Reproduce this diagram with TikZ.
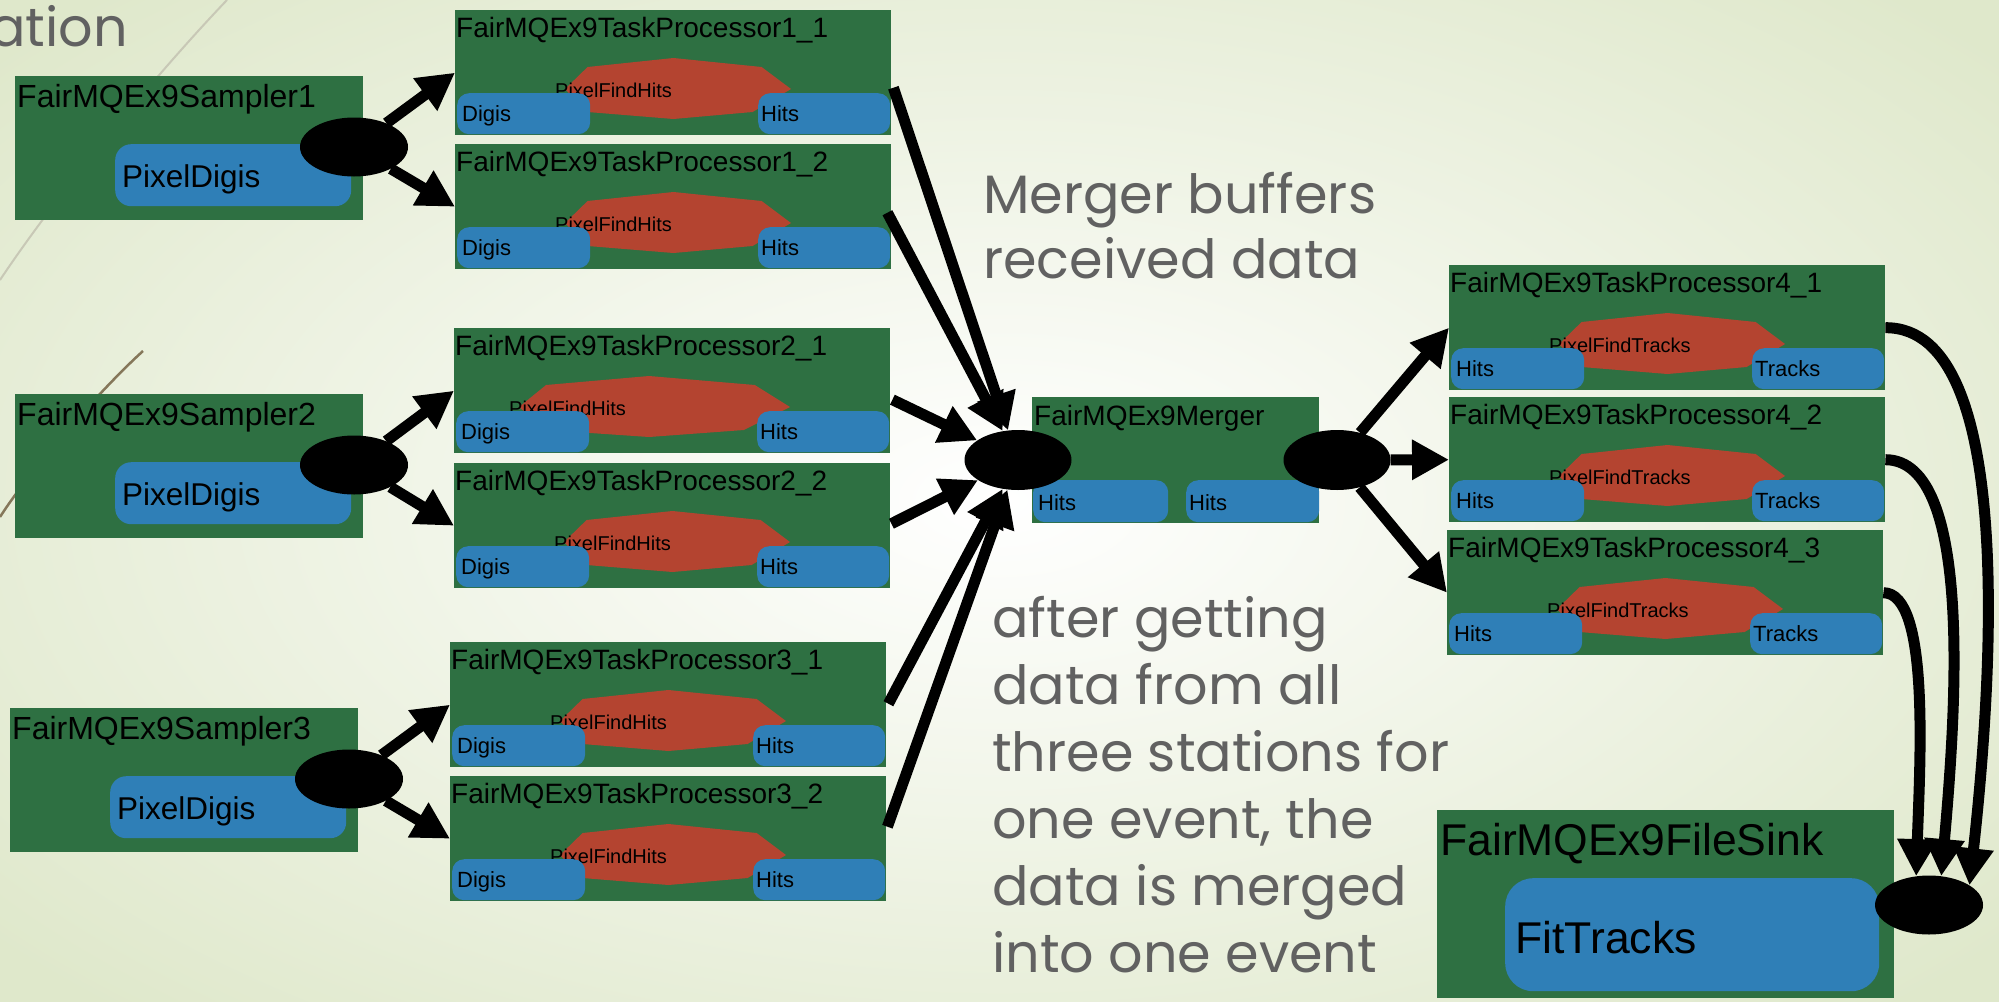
\documentclass[tikz,border=0pt]{standalone}
\usepackage{fontspec}
\setmainfont{Liberation Sans}
\newfontfamily\gothic{Poppins}
\usetikzlibrary{shapes.geometric,arrows.meta,calc}
\definecolor{boxgreen}{HTML}{2E7042}
\definecolor{boxblue}{HTML}{2F7FB7}
\definecolor{boxred}{HTML}{B44430}
\definecolor{anngray}{HTML}{616161}
\definecolor{bgedge}{HTML}{DFE8CB}
\definecolor{decoA}{HTML}{C8C8B6}
\definecolor{decoB}{HTML}{85775A}
\tikzset{
  greenbox/.style={fill=boxgreen, draw=none, inner sep=0pt, anchor=north west},
  bluebox/.style={fill=boxblue, draw=none, rounded corners=12pt, inner sep=0pt, anchor=north west},
  socket/.style={ellipse, fill=black, draw=none, inner sep=0pt, minimum width=108pt, minimum height=59pt},
  flow/.style={line width=11pt, -{Triangle[length=37pt,width=38pt]}},
  lbl/.style={inner sep=0pt, anchor=base west, font=\fontsize{22}{26}\selectfont},
  ftxt/.style={inner sep=0pt, anchor=base west, font=\fontsize{20}{24}\selectfont},
  tptitle/.style={inner sep=0pt, anchor=base west, font=\fontsize{28}{32}\selectfont},
  smtitle/.style={inner sep=0pt, anchor=base west, font=\fontsize{32}{36}\selectfont},
  bigtxt/.style={inner sep=0pt, anchor=base west, font=\fontsize{31.5}{36}\selectfont},
  hugetxt/.style={inner sep=0pt, anchor=base west, font=\fontsize{44.5}{50}\selectfont},
  ann/.style={inner sep=0pt, anchor=base west, text=anngray, font=\gothic\fontsize{54}{64}\selectfont},
}
\newcommand{\myocto}[3]{%
  \fill[boxred] ({#1+#3+0.48*(336-#3)},{#2+48}) -- ({#1+#3+0.87*(336-#3)},{#2+57}) -- ({#1+336},{#2+79})
   -- ({#1+#3+0.83*(336-#3)},{#2+102}) -- ({#1+#3+0.48*(336-#3)},{#2+109}) -- ({#1+#3+0.1*(336-#3)},{#2+102})
   -- ({#1+#3},{#2+79}) -- ({#1+#3+0.1*(336-#3)},{#2+57}) -- cycle;}
% name, x, y, title, inner, left label, right label, octagon left offset
\newcommand{\taskproc}[8]{%
  \node[greenbox, minimum width=436pt, minimum height=125pt] (#1) at (#2,#3) {};
  \myocto{#2}{#3}{#8}
  \node[ftxt] (#1-f) at ({#2+#8-10},{#3+87}) {#5};
  \node[tptitle] (#1-t) at ({#2+1},{#3+27}) {#4};
  \node[bluebox, minimum width=133pt, minimum height=41pt] (#1-l) at ({#2+2},{#3+83}) {};
  \node[bluebox, minimum width=132pt, minimum height=41pt] (#1-r) at ({#2+303},{#3+83}) {};
  \node[lbl] (#1-lt) at ({#2+7},{#3+111}) {#6};
  \node[lbl] (#1-rt) at ({#2+306},{#3+111}) {#7};
}
% name, x, y, title
\newcommand{\sampler}[4]{%
  \node[greenbox, minimum width=348pt, minimum height=144pt] (#1) at (#2,#3) {};
  \node[smtitle] (#1-t) at ({#2+2},{#3+31}) {#4};
  \node[bluebox, rounded corners=16pt, minimum width=236pt, minimum height=62pt] (#1-b) at ({#2+100},{#3+68}) {};
  \node[bigtxt] (#1-bt) at ({#2+107},{#3+111}) {PixelDigis};
  \node[socket] (#1-o) at ({#2+339},{#3+71}) {};
}
\begin{document}
\begin{tikzpicture}[x=1pt,y=-1pt]
\useasboundingbox (0,0) rectangle (1999,1001);
\shade[inner color=white, outer color=bgedge] (-300,-200) rectangle (2299,1201);
% decorative theme lines
\draw[decoA, line width=2pt] (227,0) .. controls (160,70) and (60,190) .. (0,280);
\draw[decoB, line width=2.5pt] (143,351) .. controls (100,390) and (30,470) .. (0,517);
\node[anchor=base east, inner sep=0pt, text=anngray, font=\gothic\fontsize{54}{64}\selectfont] (head) at (128,46) {ation};

% samplers
\sampler{s1}{15}{76}{FairMQEx9Sampler1}
\sampler{s2}{15}{394}{FairMQEx9Sampler2}
\sampler{s3}{10}{708}{FairMQEx9Sampler3}

% task processors
\taskproc{tp11}{455}{10}{FairMQEx9TaskProcessor1\_1}{PixelFindHits}{Digis}{Hits}{110}
\taskproc{tp12}{455}{144}{FairMQEx9TaskProcessor1\_2}{PixelFindHits}{Digis}{Hits}{110}
\taskproc{tp21}{454}{328}{FairMQEx9TaskProcessor2\_1}{PixelFindHits}{Digis}{Hits}{65}
\taskproc{tp22}{454}{463}{FairMQEx9TaskProcessor2\_2}{PixelFindHits}{Digis}{Hits}{110}
\taskproc{tp31}{450}{642}{FairMQEx9TaskProcessor3\_1}{PixelFindHits}{Digis}{Hits}{110}
\taskproc{tp32}{450}{776}{FairMQEx9TaskProcessor3\_2}{PixelFindHits}{Digis}{Hits}{110}
\taskproc{tp41}{1449}{265}{FairMQEx9TaskProcessor4\_1}{PixelFindTracks}{Hits}{Tracks}{110}
\taskproc{tp42}{1449}{397}{FairMQEx9TaskProcessor4\_2}{PixelFindTracks}{Hits}{Tracks}{110}
\taskproc{tp43}{1447}{530}{FairMQEx9TaskProcessor4\_3}{PixelFindTracks}{Hits}{Tracks}{110}

% merger
\node[greenbox, minimum width=287pt, minimum height=126pt] (mg) at (1032,397) {};
\node[tptitle] (mg-t) at (1034,425) {FairMQEx9Merger};
\node[bluebox, minimum width=135pt, minimum height=42pt] (mg-l) at (1033,480) {};
\node[bluebox, minimum width=133pt, minimum height=42pt] (mg-r) at (1186,480) {};
\node[lbl] (mg-lt) at (1038,510) {Hits};
\node[lbl] (mg-rt) at (1189,510) {Hits};
\node[socket, minimum width=107pt, minimum height=60pt] (mi) at (1018,460) {};
\node[socket, minimum width=107pt, minimum height=60pt] (mo) at (1337,460) {};

% file sink
\node[greenbox, minimum width=457pt, minimum height=188pt] (fs) at (1437,810) {};
\node[hugetxt] (fs-t) at (1440,855) {FairMQEx9FileSink};
\node[bluebox, rounded corners=28pt, minimum width=374pt, minimum height=113pt] (fs-b) at (1505,878) {};
\node[hugetxt] (fs-bt) at (1515,953) {FitTracks};
\node[socket] (sk) at (1929,905) {};

% annotations
\node[ann] (a1) at (983,213) {Merger buffers};
\node[ann] (a2) at (983,278) {received data};
\node[ann] (b1) at (992,637) {after getting};
\node[ann] (b2) at (992,704) {data from all};
\node[ann] (b3) at (992,771) {three stations for};
\node[ann] (b4) at (992,838) {one event, the};
\node[ann] (b5) at (992,905) {data is merged};
\node[ann] (b6) at (992,972) {into one event};

% connectors: samplers -> processors
\draw[flow] (s1-o) -- (tp11.west);
\draw[flow] (s1-o) -- (tp12.west);
\draw[flow] (s2-o) -- (tp21.west);
\draw[flow] (s2-o) -- (tp22.west);
\draw[flow] (s3-o) -- (tp31.west);
\draw[flow] (s3-o) -- (tp32.west);
% processors -> merger
\draw[flow] ($(tp11.east)+(2,15)$) -- (mi);
\draw[flow] ($(tp12.east)+(-4,6)$) -- (mi);
\draw[flow] ($(tp21.east)+(2,9)$) -- (mi);
\draw[flow] ($(tp22.east)+(1,-2)$) -- (mi);
\draw[flow] ($(tp31.east)+(2,-1)$) -- (mi);
\draw[flow] ($(tp32.east)+(1,-12)$) -- (mi);
% merger -> tracking
\draw[flow] (mo) -- (tp41.west);
\draw[flow] (mo) -- (tp42.west);
\draw[flow] (mo) -- (tp43.west);
% tracking -> sink
\draw[flow] (tp41.east) .. controls (2020,327) and (1990,700) .. (sk.26);
\draw[flow] (tp42.east) .. controls (1975,460) and (1955,720) .. (sk.67);
\draw[flow] (tp43.east) .. controls (1930,593) and (1920,760) .. (sk.114);
\end{tikzpicture}
\end{document}
